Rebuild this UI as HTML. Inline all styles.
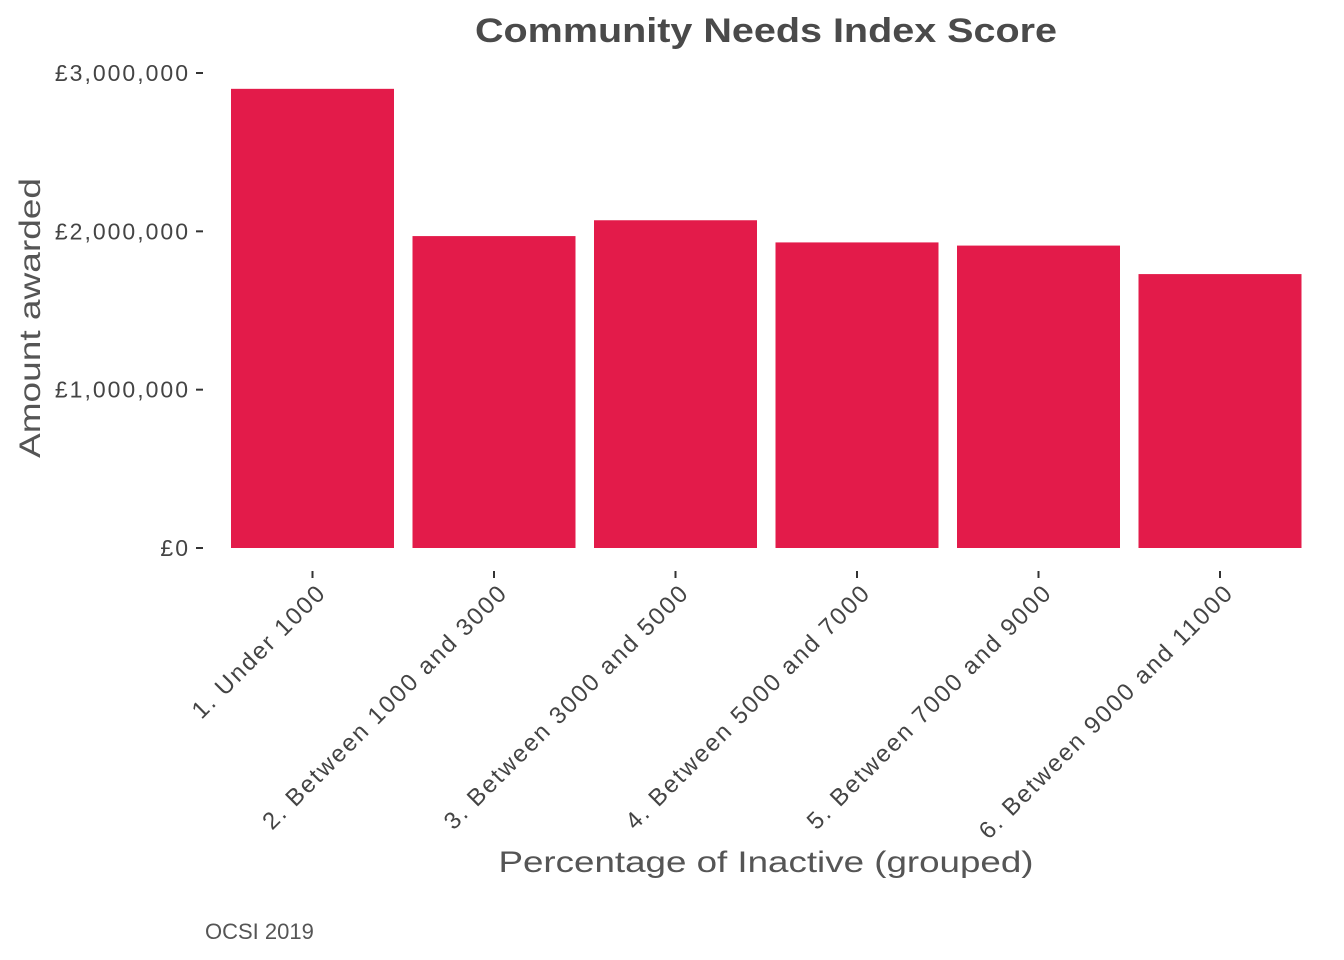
<!DOCTYPE html>
<html><head><meta charset="utf-8"><style>
html,body{margin:0;padding:0;background:#fff;}
svg{display:block;font-family:"Liberation Sans",sans-serif;}
</style></head><body>
<svg id="chart" width="1344" height="960">
<text x="766" y="42" text-anchor="middle" font-size="34" font-weight="bold" fill="#4a4a4a" textLength="582" lengthAdjust="spacingAndGlyphs">Community Needs Index Score</text>
<text transform="translate(40,318) rotate(-90)" text-anchor="middle" font-size="30" fill="#555" textLength="280" lengthAdjust="spacingAndGlyphs">Amount awarded</text>
<text x="766" y="872" text-anchor="middle" font-size="30" fill="#555" textLength="535" lengthAdjust="spacingAndGlyphs">Percentage of Inactive (grouped)</text>
<text x="205" y="939" font-size="22" fill="#555">OCSI 2019</text>
<g id="yaxis"></g>
<g id="bars"></g>
<g id="xaxis"></g>
</svg>
<script>
const categories = ["1. Under 1000","2. Between 1000 and 3000","3. Between 3000 and 5000","4. Between 5000 and 7000","5. Between 7000 and 9000","6. Between 9000 and 11000"];
const values = [2900000,1970000,2070000,1930000,1910000,1730000];
const yTicks = [0,1000000,2000000,3000000];
const yTickLabels = ["£0","£1,000,000","£2,000,000","£3,000,000"];
const NS="http://www.w3.org/2000/svg";
const y0=548, y1=73, vmax=3000000;
const xStart=221.75, step=181.5, barW=163;
function y(v){return y0-(v/vmax)*(y0-y1);}
function xc(i){return xStart+step*(i+0.5);}
function mk(tag,attrs,parent){const e=document.createElementNS(NS,tag);for(const k in attrs)e.setAttribute(k,attrs[k]);parent.appendChild(e);return e;}
const ya=document.getElementById('yaxis'),bg=document.getElementById('bars'),xa=document.getElementById('xaxis');
yTicks.forEach((t,i)=>{
  const l=mk('line',{x1:196,x2:203,y1:y(t),y2:y(t),stroke:'#333','stroke-width':2},ya);
  
  
  const tx=mk('text',{x:190,y:y(t)+8,'text-anchor':'end','font-size':23,'letter-spacing':2,fill:'#444'},ya);
  tx.textContent=yTickLabels[i];
  
  
});
values.forEach((v,i)=>{
  const r=mk('rect',{x:xc(i)-barW/2,y:y(v),width:barW,height:y0-y(v),fill:'#e31b4a'},bg);
  
  
  const t=mk('line',{x1:xc(i),x2:xc(i),y1:571,y2:578,stroke:'#333','stroke-width':2},xa);
  
  
  const tx=mk('text',{transform:`translate(${xc(i)+15},594) rotate(-45)`,'text-anchor':'end','font-size':24,'letter-spacing':2,fill:'#444'},xa);
  tx.textContent=categories[i];
  
  
});
</script>
</body></html>
